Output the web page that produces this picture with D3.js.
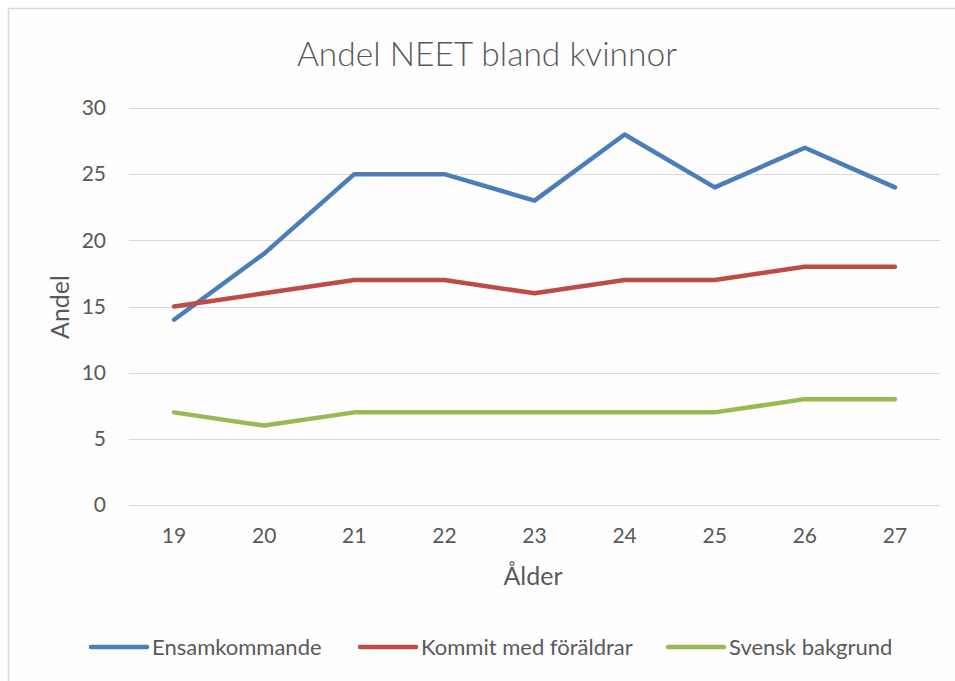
<!DOCTYPE html>
<html>
<head>
<meta charset="utf-8">
<script src="https://cdn.jsdelivr.net/npm/d3@7"></script>
<style>
  body { margin: 0; background: #fff; }
  svg { display: block; font-family: Lato, "Open Sans", sans-serif; }
</style>
</head>
<body>
<script>
// Data
var ages = ["19", "20", "21", "22", "23", "24", "25", "26", "27"];
var ensamkommande = [14, 19, 25, 25, 23, 28, 24, 27, 24];
var kommitMedForaldrar = [15, 16, 17, 17, 16, 17, 17, 18, 18];
var svenskBakgrund = [7, 6, 7, 7, 7, 7, 7, 8, 8];
var yTicks = [0, 5, 10, 15, 20, 25, 30];

var series = [
  {name: "Ensamkommande", values: ensamkommande, color: "#4a7ebb"},
  {name: "Kommit med föräldrar", values: kommitMedForaldrar, color: "#be4b48"},
  {name: "Svensk bakgrund", values: svenskBakgrund, color: "#98b954"}
];

var width = 955, height = 681;
var margin = {top: 108, right: 15, bottom: 176, left: 129};

var svg = d3.select("body").append("svg")
    .attr("width", width)
    .attr("height", height);

// chart area frame
svg.append("rect")
    .attr("x", 8.5).attr("y", 8.5)
    .attr("width", width + 20).attr("height", height + 20)
    .attr("fill", "#fefefe")
    .attr("stroke", "#d9d9d9")
    .attr("stroke-width", 1.5);

var x = d3.scaleBand()
    .domain(ages)
    .range([margin.left, width - margin.right]);

var y = d3.scaleLinear()
    .domain([0, 30])
    .range([height - margin.bottom, margin.top]);

// Gridlines
svg.append("g")
  .selectAll("line")
  .data(yTicks)
  .enter().append("line")
    .attr("x1", margin.left)
    .attr("x2", width - margin.right)
    .attr("y1", function(d) { return Math.round(y(d)) + 0.5; })
    .attr("y2", function(d) { return Math.round(y(d)) + 0.5; })
    .attr("stroke", "#d9d9d9")
    .attr("stroke-width", 1);

// Y axis labels
var yAxis = svg.append("g")
    .attr("transform", "translate(" + (margin.left - 23) + ",0)")
    .call(d3.axisLeft(y).tickValues(yTicks).tickSize(0).tickPadding(0));
yAxis.select(".domain").remove();
yAxis.selectAll("text")
    .attr("fill", "#595959")
    .style("font-size", "21px")
    .style("font-family", "Lato, sans-serif");

// X axis labels
var xAxis = svg.append("g")
    .attr("transform", "translate(0," + (height - margin.bottom + 17) + ")")
    .call(d3.axisBottom(x).tickSize(0).tickPadding(6));
xAxis.select(".domain").remove();
xAxis.selectAll("text")
    .attr("fill", "#595959")
    .style("font-size", "21px")
    .style("font-family", "Lato, sans-serif");

// Title
svg.append("text")
    .attr("x", 487)
    .attr("y", 66)
    .attr("text-anchor", "middle")
    .attr("fill", "#595959")
    .style("font-size", "33.5px")
    .style("font-weight", 300)
    .text("Andel NEET bland kvinnor");

// Axis titles
svg.append("text")
    .attr("transform", "translate(69,307) rotate(-90)")
    .attr("text-anchor", "middle")
    .attr("fill", "#595959")
    .style("font-size", "25px")
    .text("Andel");

svg.append("text")
    .attr("x", 533)
    .attr("y", 585)
    .attr("text-anchor", "middle")
    .attr("fill", "#595959")
    .style("font-size", "25px")
    .text("Ålder");

// Lines
var line = d3.line()
    .x(function(d, i) { return x(ages[i]) + x.bandwidth() / 2; })
    .y(function(d) { return y(d); });

svg.append("g")
  .selectAll("path")
  .data(series)
  .enter().append("path")
    .attr("d", function(d) { return line(d.values); })
    .attr("fill", "none")
    .attr("stroke", function(d) { return d.color; })
    .attr("stroke-width", 4.5)
    .attr("stroke-linejoin", "round")
    .attr("stroke-linecap", "round");

// Legend
var legendX = [91, 360, 668];
var legend = svg.append("g")
  .selectAll("g")
  .data(series)
  .enter().append("g")
    .attr("transform", function(d, i) { return "translate(" + legendX[i] + ",647)"; });

legend.append("line")
    .attr("x1", 0).attr("x2", 56)
    .attr("stroke", function(d) { return d.color; })
    .attr("stroke-width", 4.5)
    .attr("stroke-linecap", "round");

legend.append("text")
    .attr("x", 61)
    .attr("dy", "0.35em")
    .attr("fill", "#595959")
    .style("font-size", "22px")
    .text(function(d) { return d.name; });
</script>
</body>
</html>
